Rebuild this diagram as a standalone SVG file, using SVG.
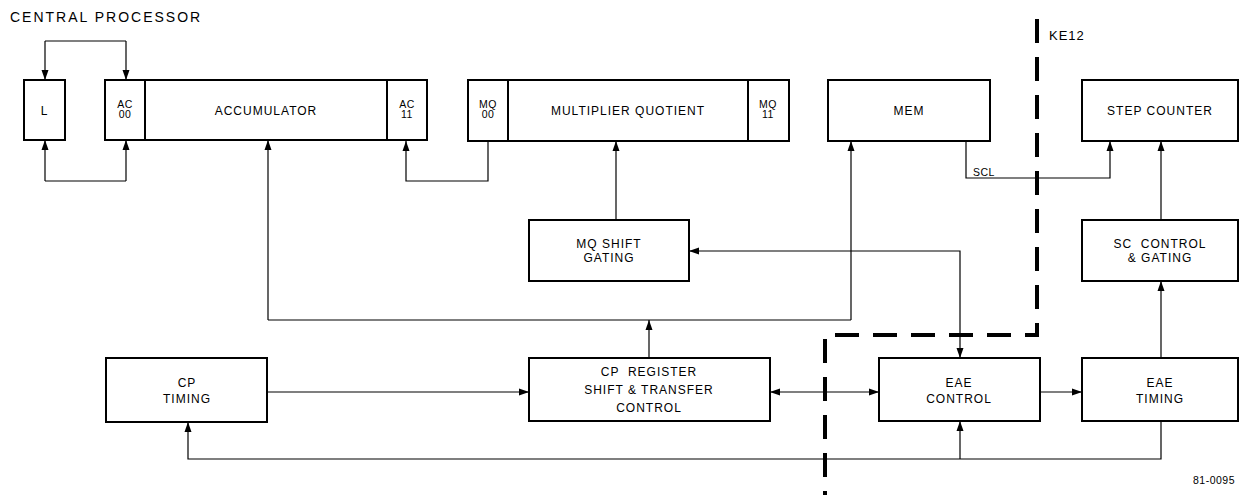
<svg xmlns="http://www.w3.org/2000/svg" width="1246" height="495" viewBox="0 0 1246 495">
<defs>
<marker id="ah" viewBox="0 0 10 10" refX="10" refY="5" markerWidth="10" markerHeight="10" markerUnits="userSpaceOnUse" orient="auto-start-reverse">
<path d="M0,1.5 L10,5 L0,8.5 Z" fill="#000"/>
</marker>
<style>
.box{fill:#fff;stroke:#000;stroke-width:2}
.div{stroke:#000;stroke-width:2;fill:none}
.c{fill:none;stroke:#000;stroke-width:1.2}
.a{marker-end:url(#ah)}
.b{marker-start:url(#ah)}
.t{font-family:"Liberation Sans",Arial,sans-serif;font-size:12px;letter-spacing:1px;text-anchor:middle;fill:#000;white-space:pre}
.s{font-size:10.5px;letter-spacing:0.5px}
.kb{stroke:#000;stroke-width:4;fill:none;stroke-dasharray:24,14}
</style>
</defs>
<rect width="1246" height="495" fill="#fff"/>
<text x="10" y="22" font-family="'Liberation Sans',Arial,sans-serif" font-size="14" letter-spacing="2" fill="#000">CENTRAL PROCESSOR</text>
<text x="1049" y="40" font-family="'Liberation Sans',Arial,sans-serif" font-size="13" letter-spacing="1" fill="#000">KE12</text>
<text x="1214" y="484" class="t s" font-size="9">81-0095</text>

<g id="boundary">
<path class="kb" d="M1037,19 V335 H825 V495"/>
</g>

<g id="connectors">
<path class="c a" d="M45,41 V80"/>
<path class="c" d="M45,41 H126"/>
<path class="c a" d="M126,41 V80"/>
<path class="c" d="M45,181 H126"/>
<path class="c a" d="M45,181 V140"/>
<path class="c a" d="M126,181 V140"/>
<path class="c a" d="M488,141 V181 H406 V141"/>
<path class="c a" d="M616,220 V141"/>
<path class="c a" d="M966,141 V178 H1110 V141"/>
<path class="c a" d="M1161,220 V141"/>
<path class="c" d="M268,320 H851"/>
<path class="c a" d="M268,320 V140"/>
<path class="c a" d="M851,320 V141"/>
<path class="c a" d="M649,358 V320"/>
<path class="c a b" d="M960,358 V251 H689"/>
<path class="c a" d="M267,392 H529"/>
<path class="c a b" d="M770,392 H879"/>
<path class="c a" d="M1040,392 H1082"/>
<path class="c a" d="M1161,358 V281"/>
<path class="c a" d="M1161,421 V459 H188 V422"/>
<path class="c a" d="M960,459 V421"/>
</g>

<g id="n-L">
<rect class="box" x="24" y="80" width="41" height="60"/>
<text class="t" x="44.5" y="115">L</text>
</g>
<g id="n-accumulator">
<rect class="box" x="105" y="80" width="322" height="60"/>
<path class="div" d="M145,80 V140 M387,80 V140"/>
<text class="t s" x="125" y="108">AC</text>
<text class="t s" x="125" y="118">00</text>
<text class="t" x="266" y="115">ACCUMULATOR</text>
<text class="t s" x="407" y="108">AC</text>
<text class="t s" x="407" y="118">11</text>
</g>
<g id="n-mq">
<rect class="box" x="468" y="80" width="321" height="61"/>
<path class="div" d="M508,80 V141 M748,80 V141"/>
<text class="t s" x="488" y="108">MQ</text>
<text class="t s" x="488" y="118">00</text>
<text class="t" x="628" y="115">MULTIPLIER QUOTIENT</text>
<text class="t s" x="768" y="108">MQ</text>
<text class="t s" x="768" y="118">11</text>
</g>
<g id="n-mem">
<rect class="box" x="828" y="80" width="162" height="61"/>
<text class="t" x="909" y="115">MEM</text>
</g>
<g id="n-step">
<rect class="box" x="1082" y="80" width="156" height="61"/>
<text class="t" x="1160" y="115">STEP COUNTER</text>
</g>
<text class="t s" x="984" y="176">SCL</text>
<g id="n-mqshift">
<rect class="box" x="529" y="220" width="160" height="61"/>
<text class="t" x="609" y="248">MQ SHIFT</text>
<text class="t" x="609" y="262">GATING</text>
</g>
<g id="n-sccontrol">
<rect class="box" x="1082" y="220" width="156" height="61"/>
<text class="t" x="1160" y="248">SC  CONTROL</text>
<text class="t" x="1160" y="262">&amp; GATING</text>
</g>
<g id="n-cptiming">
<rect class="box" x="106" y="358" width="161" height="64"/>
<text class="t" x="187" y="387">CP</text>
<text class="t" x="187" y="403">TIMING</text>
</g>
<g id="n-cpreg">
<rect class="box" x="529" y="358" width="241" height="63"/>
<text class="t" x="649" y="376">CP  REGISTER</text>
<text class="t" x="649" y="394">SHIFT &amp; TRANSFER</text>
<text class="t" x="649" y="412">CONTROL</text>
</g>
<g id="n-eaecontrol">
<rect class="box" x="879" y="358" width="161" height="63"/>
<text class="t" x="959" y="387">EAE</text>
<text class="t" x="959" y="403">CONTROL</text>
</g>
<g id="n-eaetiming">
<rect class="box" x="1082" y="358" width="156" height="63"/>
<text class="t" x="1160" y="387">EAE</text>
<text class="t" x="1160" y="403">TIMING</text>
</g>
</svg>
